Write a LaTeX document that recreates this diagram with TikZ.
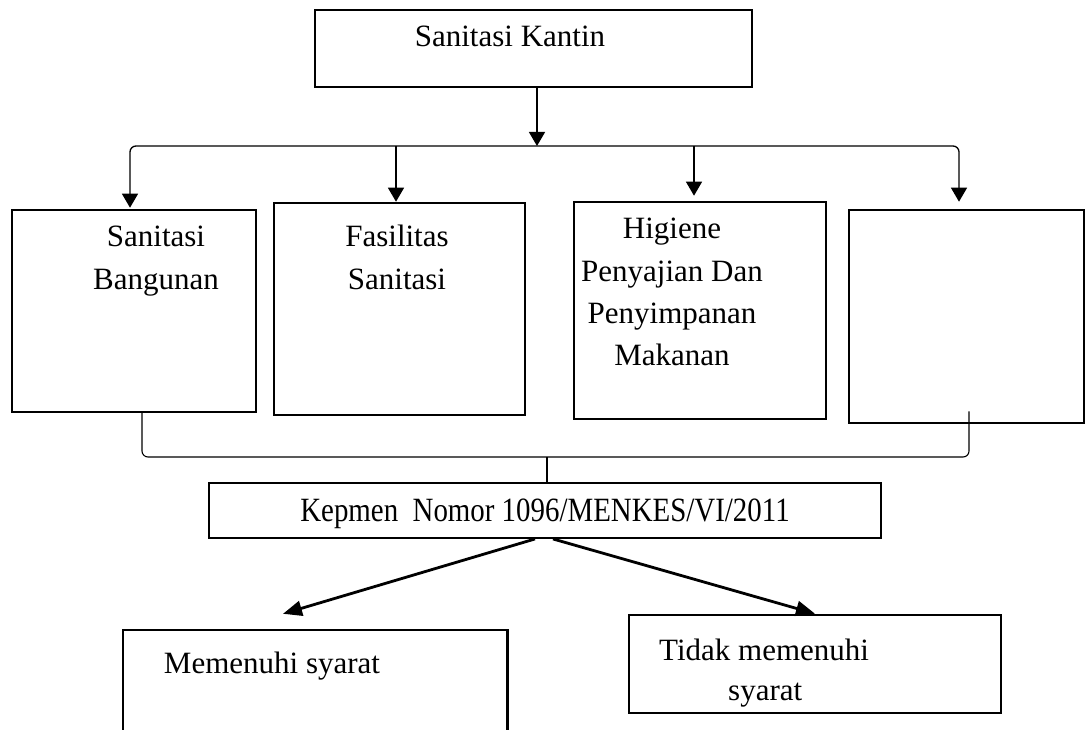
\documentclass[tikz,border=0pt]{standalone}
\usepackage{fontspec}
\setmainfont{Liberation Serif}
\newfontfamily\kepfont[FakeStretch=0.85]{Liberation Serif}
\usetikzlibrary{positioning, arrows.meta}
\tikzset{
  wtip/.tip={Triangle[length=14pt,width=16pt]},
  ftip/.tip={Triangle[length=19pt,width=15pt]},
  box/.style={draw, line width=2.6pt, inner sep=0pt},
  lbl/.style={inner sep=0pt, font=\fontsize{31}{43}\selectfont},
  arr/.style={-wtip, line width=1.3pt},
  bar/.style={line width=1.1pt, rounded corners=6pt},
  fat/.style={-ftip, line width=2.8pt}
}

\begin{document}
\begin{tikzpicture}[x=1pt, y=-1pt]
          \useasboundingbox (0,0) rectangle (1086,730);
          \node[box, minimum width=437pt, minimum height=77pt] at (533.5,48.5) (kantin) {};
          \node[box, minimum width=244pt, minimum height=202pt] at (134,311) (s1) {};
          \node[box, minimum width=251pt, minimum height=212pt] at (399.5,309) (s2) {};
          \node[box, minimum width=252pt, minimum height=217pt] at (700,310.5) (s3) {};
          \node[box, minimum width=235pt, minimum height=213pt] at (966.5,316.5) (s4) {};
          \node[box, line width=1.9pt, minimum width=672pt, minimum height=55pt, text depth=0pt, font=\kepfont\fontsize{34}{40}\selectfont] at (545,510.5) (kep) {Kepmen\ \ Nomor 1096/MENKES/VI/2011};
          \node[inner sep=0pt, minimum width=384pt, minimum height=100pt] at (315,680) (ok) {};
          \draw[line width=2.6pt] (ok.south west) |- (ok.north east) -- (ok.south east);
          \node[box, minimum width=372pt, minimum height=98pt] at (815,664) (notok) {};
          \node[lbl, anchor=base] at (510,47) (p0) {Sanitasi Kantin};
          \node[lbl, align=center, anchor=north] at (156,226) (p1) {Sanitasi\\Bangunan};
          \node[lbl, align=center, anchor=north] at (397,225) (p2) {Fasilitas\\Sanitasi};
          \node[lbl, align=center, anchor=north, font=\fontsize{31}{42.3}\selectfont] at (672,218) (p3) {Higiene\\Penyajian Dan\\Penyimpanan\\Makanan};
          \node[lbl, anchor=base] at (272,673) (p5) {Memenuhi syarat};
          \node[lbl, align=left, anchor=north west, font=\fontsize{31}{40}\selectfont] at (659,639) (p6) {Tidak memenuhi\\\hspace*{69pt}syarat};
          \coordinate (hub) at (537,146);
          \coordinate (mid) at (547,457);
          \draw[arr] (kantin.south -| hub) -- (hub);
          \draw[bar, line width=1.3pt, wtip-wtip] ([xshift=-4pt,yshift=1pt]s1.north) |- (hub) -| ([xshift=-7.5pt,yshift=7pt]s4.north);
          \draw[arr] ([xshift=-3.5pt]s2.north |- hub) -- ([xshift=-3.5pt]s2.north);
          \draw[arr] ([xshift=-6pt]s3.north |- hub) -- ([xshift=-6pt,yshift=5pt]s3.north);
          \draw[bar] ([xshift=8pt,yshift=2pt]s1.south) |- (mid) -| ([xshift=2.5pt,yshift=13pt]s4.south);
          \draw[line width=1.1pt] (mid) -- (mid |- kep.north);
          \draw[fat] ([xshift=-10pt]kep.south) -- ([xshift=-32pt,yshift=16pt]ok.north);
          \draw[fat] ([xshift=8pt]kep.south) -- (notok.north);
        \end{tikzpicture}
\end{document}
